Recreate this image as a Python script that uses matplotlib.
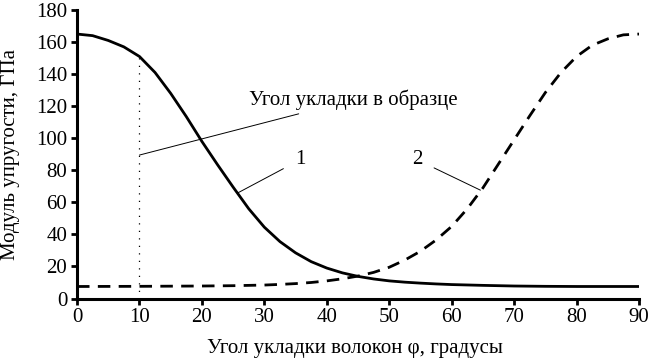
import matplotlib
matplotlib.use("Agg")
import matplotlib.pyplot as plt

plt.rcParams['font.family'] = ['Liberation Serif', 'DejaVu Serif']

# угол укладки, градусы
angle_1 = [0, 2.5, 5, 7.5, 10, 12.5, 15, 17.5, 20, 22.5, 25, 27.5, 30, 32.5, 35,
           37.5, 40, 42.5, 45, 47.5, 50, 52.5, 55, 57.5, 60, 65, 70, 75, 80, 85, 90]
modulus_1 = [165, 164, 161, 157, 151, 141, 128, 113.5, 98, 83.5, 69.5, 56, 44.5, 35.5, 28.5,
             23, 19, 16, 13.8, 12.2, 11, 10.2, 9.6, 9.1, 8.7, 8.2, 7.8, 7.6, 7.5, 7.5, 7.5]

angle_2 = [0, 10, 20, 25, 30, 32.5, 35, 37.5, 40, 42.5, 45, 47.5, 50, 52.5, 55,
           57.5, 60, 62.5, 65, 67.5, 70, 72.5, 75, 77.5, 80, 82.5, 85, 87.5, 90]
modulus_2 = [7.5, 7.6, 7.8, 8.0, 8.4, 8.8, 9.3, 10, 11, 12.3, 14, 16.3, 19.5, 24, 29.5,
             36.5, 45, 56, 69, 84, 99, 114, 128.5, 141, 151, 158, 162, 164.5, 165]

sample_angle = 10
sample_modulus = 151

fig = plt.figure(figsize=(6.51, 3.6), dpi=100)
ax = fig.add_axes([0.1183, 0.1708, 0.8633, 0.8014])

ax.plot(angle_1, modulus_1, color='black', lw=2.0, solid_joinstyle='round')
ax.plot(angle_2, modulus_2, color='black', lw=2.0, dashes=(4.5, 3))
ax.plot([sample_angle, sample_angle], [0, sample_modulus], color='black', lw=0.9, dashes=(1, 5))

fs = 15
ax.annotate('Угол укладки в образце', xy=(10, 89.5), xytext=(27.5, 124),
            fontsize=fs, va='center', ha='left',
            arrowprops=dict(arrowstyle='-', lw=0.7, color='black', shrinkA=3, shrinkB=0))
ax.annotate('1', xy=(25.8, 66), xytext=(35.7, 86.5),
            fontsize=fs, va='center', ha='center',
            arrowprops=dict(arrowstyle='-', lw=0.7, color='black', shrinkA=7, shrinkB=0))
ax.annotate('2', xy=(64.6, 67.6), xytext=(54.5, 86.5),
            fontsize=fs, va='center', ha='center',
            arrowprops=dict(arrowstyle='-', lw=0.7, color='black', shrinkA=7, shrinkB=0))

ax.set_xlim(0, 90)
ax.set_ylim(0, 180)
ax.set_xticks(range(0, 91, 10))
ax.set_yticks(range(0, 181, 20))
ax.tick_params(direction='out', length=4, width=2, labelsize=fs, pad=3)
for s in ['top', 'right']:
    ax.spines[s].set_visible(False)
for s in ['left', 'bottom']:
    ax.spines[s].set_linewidth(2.2)

ax.set_xlabel('Угол укладки волокон φ, градусы', fontsize=fs)
ax.set_ylabel('Модуль упругости, ГПа', fontsize=fs)
ax.xaxis.set_label_coords(0.495, -0.172)
ax.xaxis.label.set_va('center')
ax.yaxis.set_label_coords(-0.119, 0.5)
ax.yaxis.label.set_va('center')

fig.savefig('out.png', dpi=100)
plt.close()
